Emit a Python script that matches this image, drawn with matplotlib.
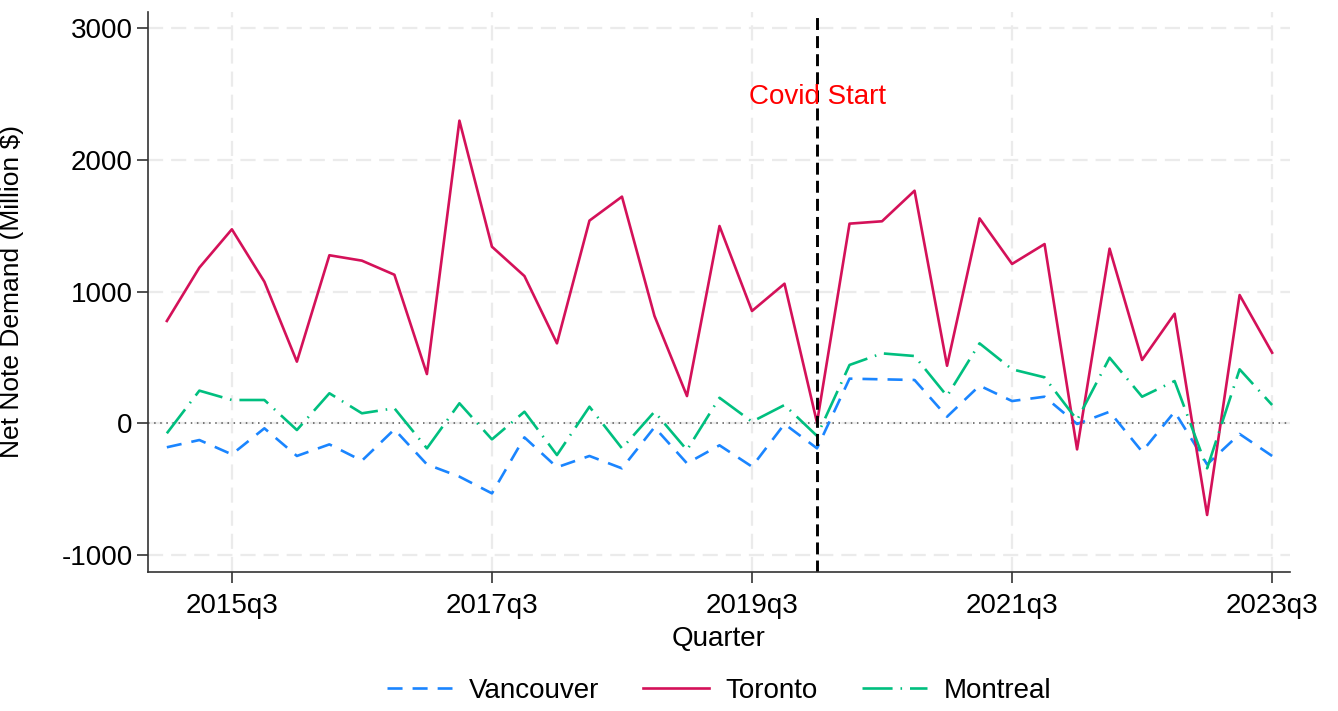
import numpy as np
import pandas as pd
import matplotlib
matplotlib.use("Agg")
import matplotlib.pyplot as plt

plt.rcParams['font.family'] = ['Liberation Sans', 'DejaVu Sans']
plt.rcParams['axes.unicode_minus'] = False

# quarters 2015q1 .. 2023q3
quarters = [f"{p.year}q{p.quarter}" for p in pd.period_range("2015Q1", "2023Q3", freq="Q")]

vancouver = [-182, -127, -236, -38, -248, -160, -284, -46, -312, -405,
             -532, -107, -334, -248, -342, -30, -304, -167, -329, -5,
             -190, 339, 334, 329, 50, 286, 169, 202, -5, 88,
             -215, 88, -312, -81, -248]
toronto = [777, 1182, 1473, 1075, 468, 1276, 1235, 1128, 374, 2298,
           1341, 1118, 607, 1539, 1721, 815, 207, 1498, 853, 1060,
           5, 1516, 1534, 1766, 437, 1556, 1210, 1361, -198, 1326,
           481, 832, -696, 974, 536]
montreal = [-76, 248, 177, 177, -51, 228, 76, 114, -190, 152,
            -122, 88, -241, 126, -190, 88, -203, 194, 12, 139,
            -96, 443, 531, 511, 207, 607, 410, 349, 25, 498,
            202, 321, -342, 410, 139]

tick_labels = ["2015q3", "2017q3", "2019q3", "2021q3", "2023q3"]
covid_quarter = "2020q1"

x = np.arange(len(quarters))
tick_pos = [quarters.index(t) for t in tick_labels]
covid_x = quarters.index(covid_quarter)

fig = plt.figure(figsize=(13.38, 7.11), dpi=100)
ax = fig.add_axes([148 / 1338, 1 - 572 / 711, (1290 - 148) / 1338, (572 - 12) / 711])

ax.plot(x, vancouver, color='#1A85FF', lw=1.9, ls=(0, (5.7, 3.8)), label='Vancouver')
ax.plot(x, toronto, color='#D41159', lw=1.9, label='Toronto')
ax.plot(x, montreal, color='#00BF7F', lw=1.9, ls=(0, (11.4, 3.0, 0.6, 3.0)), label='Montreal')

ax.axhline(0, color='#555555', lw=1.1, ls=(0, (1, 3)), zorder=1)
ax.axvline(covid_x, color='black', lw=2.1, ls=(0, (4.1, 2.1)))
ax.text(covid_x, 2480, "Covid Start", color='red', fontsize=20, ha='center', va='center')

ax.set_xlim(-0.58, 34.55)
ax.set_ylim(-1129, 3123)
ax.set_xticks(tick_pos)
ax.set_xticklabels(tick_labels)
ax.set_yticks([-1000, 0, 1000, 2000, 3000])
ax.tick_params(labelsize=20, length=8, width=1.2, color='#333333')
ax.tick_params(axis='y', pad=3)
ax.tick_params(axis='x', pad=7)

ax.grid(True, color='#ebebeb', lw=1.6, ls=(0, (6.8, 3.6)))
ax.set_axisbelow(True)
for s in ['top', 'right']:
    ax.spines[s].set_visible(False)
for s in ['left', 'bottom']:
    ax.spines[s].set_linewidth(1.2)
    ax.spines[s].set_color('#333333')

ax.set_xlabel("Quarter", fontsize=20, labelpad=5)
ax.set_ylabel("Net Note Demand (Million $)", fontsize=19)
ax.yaxis.set_label_coords(-0.109, 0.5)

# legend centred under the plot area
fig.legend(loc='center', bbox_to_anchor=(719 / 1338, 1 - 691 / 711), ncol=3, frameon=False,
           fontsize=20, handlelength=2.35, handletextpad=0.6, columnspacing=1.6)

fig.savefig("out.png", dpi=100)
